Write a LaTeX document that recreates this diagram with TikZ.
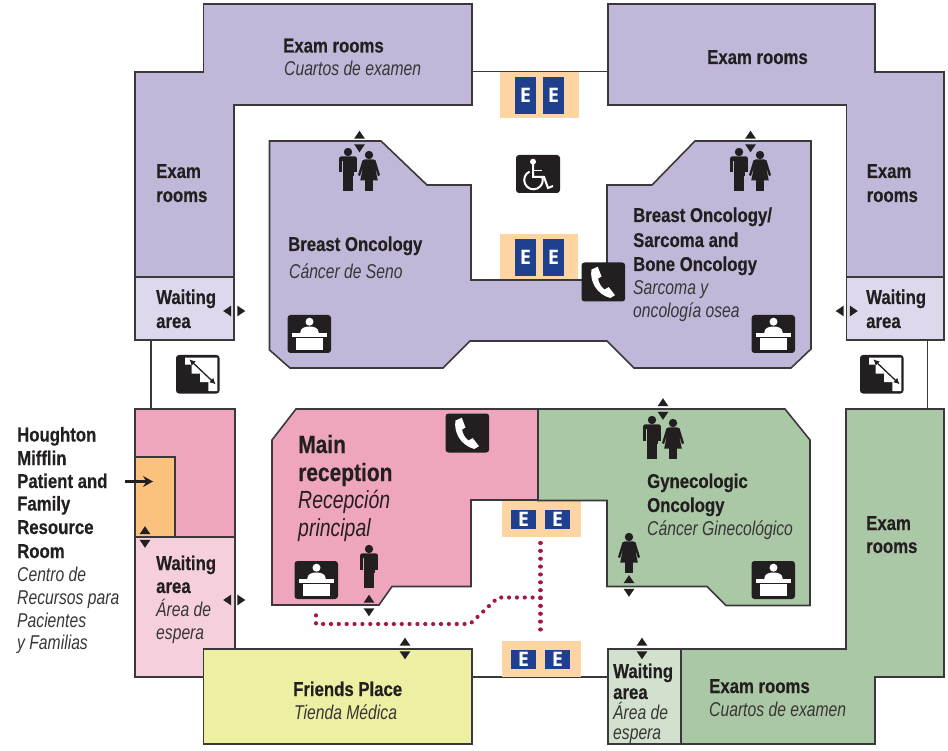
\documentclass[tikz,border=0pt]{standalone}
\usepackage{fontspec}
\setmainfont{Liberation Sans}[FakeStretch=0.785,BoldFeatures={FakeStretch=0.838,FakeBold=0.35}]
\newfontfamily\efont{Open Sans}
\usetikzlibrary{arrows.meta}
\definecolor{ink}{HTML}{231F20}
\definecolor{wall}{HTML}{3A383A}
\definecolor{purpleroom}{HTML}{C1B7D9}
\definecolor{purplewait}{HTML}{DDD8EC}
\definecolor{pinkroom}{HTML}{EFA6BD}
\definecolor{pinkwait}{HTML}{F6CFDC}
\definecolor{greenroom}{HTML}{AAC8A5}
\definecolor{greenwait}{HTML}{D2E1CD}
\definecolor{yellowroom}{HTML}{EDF0A2}
\definecolor{orangeroom}{HTML}{FDC17E}
\definecolor{liftbg}{HTML}{FDD5A2}
\definecolor{liftblue}{HTML}{1F3F8F}
\definecolor{route}{HTML}{A3184A}
\tikzset{
  room/.style={draw=wall,line width=1.6pt,line join=miter},
  thinwall/.style={draw=wall,line width=1.2pt},
  en/.style={anchor=base west,inner sep=0pt,text=ink,font=\fontsize{20}{24}\selectfont\bfseries},
  es/.style={anchor=base west,inner sep=0pt,text=ink!90,font=\fontsize{20}{24}\selectfont\itshape},
  big/.style={anchor=base west,inner sep=0pt,text=ink,font=\fontsize{25}{30}\selectfont\bfseries},
  bigit/.style={anchor=base west,inner sep=0pt,text=ink,font=\fontsize{24.8}{29}\selectfont\itshape},
  routeline/.style={draw=route,line width=4.2pt,line cap=round,dash pattern=on 0.01pt off 7.85pt},
  liftcar/.style={fill=liftblue,draw=none,inner sep=0pt,text=white,font=\efont\bfseries\fontsize{20}{20}\selectfont},
  iconbox/.style={fill=ink,rounded corners=3pt,draw=none},
  vpair/.pic={\fill[ink] (-5.4,-2.8)--(5.4,-2.8)--(0,-10.8)--cycle;\fill[ink] (-5.4,2.8)--(5.4,2.8)--(0,10.8)--cycle;},
  hpair/.pic={\fill[ink] (-3.3,-5.4)--(-3.3,5.4)--(-11.3,0)--cycle;\fill[ink] (2.8,-5.4)--(2.8,5.4)--(10.8,0)--cycle;},
  manfig/.pic={
    \fill[ink] (0,0) circle (4.2);
    \fill[ink,rounded corners=1.5pt] (-8.8,4.4) rectangle (8.8,9);
    \fill[ink] (-8.8,6) rectangle (-5.9,20.5);
    \fill[ink] (8.8,6) rectangle (5.9,20.5);
    \fill[ink] (-5.5,6) rectangle (5.5,24);
    \fill[ink] (-4.9,23) rectangle (-0.3,39);
    \fill[ink] (4.9,23) rectangle (0.3,39);
  },
  womanfig/.pic={
    \fill[ink] (0,0) circle (4.2);
    \fill[ink] (-4.2,4.4)--(4.2,4.4)--(6.6,5.5)--(11,20)--(9,21.2)--(5.8,11.5)--(8.8,25.5)--(-8.8,25.5)--(-5.8,11.5)--(-9,21.2)--(-11,20)--(-6.6,5.5)--cycle;
    \fill[ink] (-4.2,24) rectangle (-0.4,36);
    \fill[ink] (4.2,24) rectangle (0.4,36);
  },
  deskicon/.pic={
    \path[iconbox] (0,0) rectangle (43.5,38);
    \fill[white] (22,6.7) circle (4);
    \fill[white] (12.7,18) .. controls (13,13) and (17,11.5) .. (22,11.5) .. controls (27,11.5) and (31,13) .. (31.3,18) -- cycle;
    \fill[white] (4.3,18.4) rectangle (39.3,22.2);
    \fill[white] (8.3,23.2) rectangle (35.7,35);
  },
  phoneicon/.pic={
    \path[iconbox] (0,0) rectangle (43.7,39);
    \fill[white] (10,7) -- (16.3,4.2) -- (20,14) -- (16.6,16) .. controls (17,20) and (19.5,24.5) .. (23,27) -- (27.2,24.6) -- (33.5,32.7) -- (28.7,35.5) .. controls (14.5,31.5) and (8,18) .. cycle;
  },
  wheelicon/.pic={
    \path[iconbox] (0,0) rectangle (44,38);
    \fill[white] (17,6.7) circle (3);
    \draw[white,line width=2pt,line join=miter] (17,9) -- (17,22) -- (28,22) -- (32,33) -- (37,31);
    \draw[white,line width=1.6pt] (17,15.5) -- (26,15.5);
    \draw[white,line width=2pt] (17.5,25) ++(-115:9.3) arc[start angle=-115,end angle=-385,radius=9.3];
  },
  stairicon/.pic={
    \path[iconbox] (0,0) rectangle (43.5,38.5);
    \fill[white] (9,2.7) -- (9,9.7) -- (15.7,9.7) -- (15.7,18.7) -- (24,18.7) -- (24,27) -- (32.3,27) -- (32.3,36) -- (41.3,36) -- (41.3,2.7) -- cycle;
    \draw[ink,line width=1.3pt,{Latex[length=6pt,width=6pt]}-{Latex[length=6pt,width=6pt]}] (13.3,4.3) -- (39.7,29.3);
  }
}
\begin{document}
\begin{tikzpicture}[x=1pt,y=-1pt]
\useasboundingbox (0,0) rectangle (948,751);
% connecting walls
\draw[thinwall] (472,71.5) -- (608,71.5);
\draw[thinwall] (472,677) -- (608,677);
\draw[thinwall] (151,340) -- (151,409);
\draw[thinwall] (927.5,340) -- (927.5,409);
% lift lobbies
\fill[liftbg] (500,72) rectangle (579,118);
\fill[liftbg] (500,234) rectangle (578,280);
\fill[liftbg] (502,501) rectangle (581,537);
\fill[liftbg] (502,641) rectangle (581,677);
% purple rooms
\path[room,fill=purpleroom] (203.5,4) -- (472,4) -- (472,105) -- (234,105) -- (234,277) -- (135,277) -- (135,72) -- (203.5,72) -- cycle;
\path[room,fill=purplewait] (135,277) rectangle (234,340);
\path[room,fill=purpleroom] (608,4) -- (875,4) -- (875,72) -- (944,72) -- (944,277) -- (846.5,277) -- (846.5,105) -- (608,105) -- cycle;
\path[room,fill=purplewait] (846.5,277) rectangle (944,340);
\path[room,fill=purpleroom] (269.5,141) -- (381,141) -- (427,185) -- (471,185) -- (471,280) -- (607,280) -- (607,185) -- (652,185) -- (695,141) -- (811,141) -- (811,349) -- (791,368) -- (634,368) -- (607,341) -- (470,341) -- (443,368) -- (290,368) -- (269.5,350) -- cycle;
% pink rooms
\path[room,fill=pinkroom] (135,409) rectangle (235,537);
\path[room,fill=orangeroom] (135,457) rectangle (175,537);
\path[room,fill=pinkwait] (135,537) rectangle (235,677);
\path[room,fill=pinkroom] (296,409) -- (538,409) -- (538,500) -- (471,500) -- (471,586.5) -- (392,586.5) -- (379,605) -- (272,605) -- (272,440) -- cycle;
% green rooms
\path[room,fill=greenroom] (538,409) -- (785,409) -- (810,440) -- (810,605.5) -- (726,605.5) -- (707,586.5) -- (607,586.5) -- (607,500.5) -- (538,500.5) -- cycle;
\path[room,fill=greenroom] (846,409) -- (944,409) -- (944,677) -- (875,677) -- (875,744) -- (681,744) -- (681,649) -- (846,649) -- cycle;
\path[room,fill=greenwait] (608,649) rectangle (681,744);
% shop
\path[room,fill=yellowroom] (203.5,649) rectangle (472,744);
% lift cars
\node[liftcar,minimum width=21pt,minimum height=37pt] (e1) at (525.5,95.5) {E};
\node[liftcar,minimum width=21pt,minimum height=37pt] (e2) at (553.5,95.5) {E};
\node[liftcar,minimum width=21pt,minimum height=37pt] (e3) at (525.5,257.5) {E};
\node[liftcar,minimum width=21pt,minimum height=37pt] (e4) at (553.5,257.5) {E};
\node[liftcar,minimum width=25pt,minimum height=19pt] (e5) at (523.5,519.5) {E};
\node[liftcar,minimum width=25pt,minimum height=19pt] (e6) at (557.5,519.5) {E};
\node[liftcar,minimum width=25pt,minimum height=19pt] (e7) at (523.5,659.5) {E};
\node[liftcar,minimum width=25pt,minimum height=19pt] (e8) at (557.5,659.5) {E};
% route
\coordinate (rtop) at (540.5,543);
\coordinate (rbot) at (540.5,637);
\coordinate (rjoin) at (540.5,597.5);
\coordinate (rdesk) at (316,610);
\draw[routeline] (rtop) -- (rbot);
\draw[routeline] (rjoin) -- (498,597.5) -- (470,624) -- (316,624) -- (rdesk);
% icons
\pic at (516,155) {wheelicon};
\pic at (581.5,262.5) {phoneicon};
\pic at (445.5,413.5) {phoneicon};
\pic at (287.5,315) {deskicon};
\pic at (751.5,315) {deskicon};
\pic at (294.5,561) {deskicon};
\pic at (751.5,561) {deskicon};
\pic at (176,355) {stairicon};
\pic at (860,355) {stairicon};
% people
\pic at (348,152) {manfig};
\pic at (369,155) {womanfig};
\pic at (739,152) {manfig};
\pic at (760,155) {womanfig};
\pic at (652,420) {manfig};
\pic at (673,423) {womanfig};
\pic at (369,549) {manfig};
\pic at (629,537) {womanfig};
% door markers
\pic at (359.5,141.5) {vpair};
\pic at (750.5,141.5) {vpair};
\pic at (663,409) {vpair};
\pic at (369,605.5) {vpair};
\pic at (629,586) {vpair};
\pic at (145,537) {vpair};
\pic at (405,648.5) {vpair};
\pic at (642,648.5) {vpair};
\pic at (234.5,311) {hpair};
\pic at (847,311) {hpair};
\pic at (234.5,600) {hpair};
% arrow to resource room
\coordinate (rrfrom) at (125,481.5);
\coordinate (rrto) at (153,481.5);
\draw[ink,line width=2.4pt,-{Stealth[length=10pt,width=11pt,inset=3.5pt]}] (rrfrom) -- (rrto);
% labels
\node[en] (t1) at (283,52.5) {Exam rooms};
\node[es] (t2) at (284,76) {Cuartos de examen};
\node[en] (t3) at (156,178) {Exam};
\node[en] (t4) at (156,202) {rooms};
\node[en] (t5) at (156,304) {Waiting};
\node[en] (t6) at (156,328) {area};
\node[en] (t7) at (288,251) {Breast Oncology};
\node[es] (t8) at (289,279) {Cáncer de Seno};
\node[en] (t9) at (707,64) {Exam rooms};
\node[en] (t10) at (866.5,178) {Exam};
\node[en] (t11) at (866.5,202) {rooms};
\node[en] (t12) at (866,304) {Waiting};
\node[en] (t13) at (866,328) {area};
\node[en] (t14) at (633,222) {Breast Oncology/};
\node[en] (t15) at (633,247) {Sarcoma and};
\node[en] (t16) at (633,271) {Bone Oncology};
\node[es] (t17) at (633,295) {Sarcoma y};
\node[es] (t18) at (633,318) {oncología osea};
\node[big] (t19) at (298,453) {Main};
\node[big] (t20) at (298,481) {reception};
\node[bigit] (t21) at (298,508) {Recepción};
\node[bigit] (t22) at (298,536) {principal};
\node[en] (t23) at (156,570) {Waiting};
\node[en] (t24) at (156,593) {area};
\node[es] (t25) at (156,616) {Área de};
\node[es] (t26) at (156,639) {espera};
\node[en] (t27) at (293,696) {Friends Place};
\node[es] (t28) at (294,719) {Tienda Médica};
\node[en] (t29) at (647,488) {Gynecologic};
\node[en] (t30) at (647,512) {Oncology};
\node[es] (t31) at (647,535) {Cáncer Ginecológico};
\node[en] (t32) at (866,530) {Exam};
\node[en] (t33) at (866,553) {rooms};
\node[en] (t34) at (613,678) {Waiting};
\node[en] (t35) at (613,699) {area};
\node[es] (t36) at (613,719) {Área de};
\node[es] (t37) at (613,739) {espera};
\node[en] (t38) at (709,693) {Exam rooms};
\node[es] (t39) at (709,716) {Cuartos de examen};
\node[en] (t40) at (17,441.5) {Houghton};
\node[en] (t41) at (17,465) {Mifflin};
\node[en] (t42) at (17,488) {Patient and};
\node[en] (t43) at (17,510.5) {Family};
\node[en] (t44) at (17,534) {Resource};
\node[en] (t45) at (17,558) {Room};
\node[es] (t46) at (17,581) {Centro de};
\node[es] (t47) at (17,604) {Recursos para};
\node[es] (t48) at (17,627) {Pacientes};
\node[es] (t49) at (17,649.5) {y Familias};
\end{tikzpicture}
\end{document}
